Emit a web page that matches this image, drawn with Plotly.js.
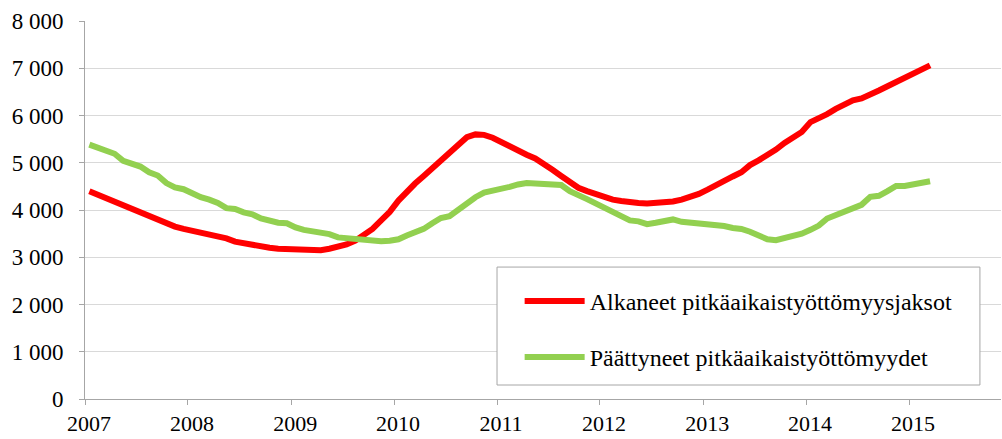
<!DOCTYPE html>
<html>
<head>
<meta charset="utf-8">
<script src="https://cdn.plot.ly/plotly-3.0.1.min.js"></script>
<style>
html, body { margin: 0; padding: 0; background: #ffffff; }
#chart { width: 1002px; height: 439px; }
</style>
</head>
<body>
<div id="chart"></div>
<script>
// Monthly observations, January 2007 – March 2015
var months = [
  '2007-01','2007-02','2007-03','2007-04','2007-05','2007-06','2007-07','2007-08','2007-09','2007-10','2007-11','2007-12',
  '2008-01','2008-02','2008-03','2008-04','2008-05','2008-06','2008-07','2008-08','2008-09','2008-10','2008-11','2008-12',
  '2009-01','2009-02','2009-03','2009-04','2009-05','2009-06','2009-07','2009-08','2009-09','2009-10','2009-11','2009-12',
  '2010-01','2010-02','2010-03','2010-04','2010-05','2010-06','2010-07','2010-08','2010-09','2010-10','2010-11','2010-12',
  '2011-01','2011-02','2011-03','2011-04','2011-05','2011-06','2011-07','2011-08','2011-09','2011-10','2011-11','2011-12',
  '2012-01','2012-02','2012-03','2012-04','2012-05','2012-06','2012-07','2012-08','2012-09','2012-10','2012-11','2012-12',
  '2013-01','2013-02','2013-03','2013-04','2013-05','2013-06','2013-07','2013-08','2013-09','2013-10','2013-11','2013-12',
  '2014-01','2014-02','2014-03','2014-04','2014-05','2014-06','2014-07','2014-08','2014-09','2014-10','2014-11','2014-12',
  '2015-01','2015-02','2015-03'
];

var seriesNames = ['Alkaneet pitkäaikaistyöttömyysjaksot', 'Päättyneet pitkäaikaistyöttömyydet'];

var alkaneet = [
  4395,4320,4260,4200,4110,4030,3950,3865,3800,3720,3650,3600,
  3560,3520,3490,3450,3400,3330,3290,3250,3220,3200,3180,3170,
  3165,3160,3165,3150,3180,3220,3270,3350,3460,3600,3780,3960,
  4200,4400,4560,4720,4880,5070,5240,5400,5540,5600,5590,5530,
  5430,5330,5250,5170,5090,4980,4850,4720,4600,4470,4400,4330,
  4270,4220,4190,4160,4150,4140,4150,4150,4180,4220,4270,4340,
  4430,4530,4630,4710,4800,4950,5050,5150,5280,5420,5540,5650,
  5860,5940,6030,6140,6240,6320,6360,6430,6530,6620,6710,6790,
  6870,6950,7060
];

var paattyneet = [
  5385,5320,5250,5190,5040,4980,4920,4800,4730,4570,4480,4440,
  4340,4270,4220,4150,4040,4020,3950,3910,3820,3760,3730,3720,
  3630,3580,3560,3510,3490,3420,3400,3380,3350,3330,3340,3350,
  3380,3460,3530,3600,3720,3830,3870,4010,4150,4270,4370,4410,
  4430,4490,4540,4570,4560,4560,4560,4530,4400,4300,4230,4140,
  4050,3950,3850,3780,3760,3700,3730,3750,3800,3750,3730,3730,
  3720,3680,3660,3620,3600,3540,3460,3380,3360,3400,3450,3500,
  3580,3670,3820,3900,3960,4050,4110,4280,4300,4400,4510,4510,
  4540,4570,4610
];

var FONT = 'Liberation Serif';

var traces = [
  {
    type: 'scatter', mode: 'lines', name: seriesNames[0], legendgroup: 'a',
    x: months, y: alkaneet, xperiod: 'M1', xperiodalignment: 'middle',
    line: { color: '#ff0000', width: 6, shape: 'linear' }, hoverinfo: 'x+y'
  },
  {
    type: 'scatter', mode: 'lines', name: seriesNames[1], legendgroup: 'b',
    x: months, y: paattyneet, xperiod: 'M1', xperiodalignment: 'middle',
    line: { color: '#92d050', width: 6, shape: 'linear' }, hoverinfo: 'x+y'
  }
];

var layout = {
  width: 1002, height: 439,
  margin: { l: 85, r: 1, t: 21, b: 40, pad: 0 },
  paper_bgcolor: '#ffffff', plot_bgcolor: '#ffffff',
  font: { family: FONT, size: 23, color: '#000000' },
  separators: ', ',
  showlegend: true,
  xaxis: {
    type: 'date',
    range: ['2007-01-01', '2015-11-23'],
    tick0: '2007-01-01', dtick: 'M12', tickformat: '%Y',
    ticks: 'outside', ticklen: 5, tickcolor: '#a6a6a6', tickwidth: 1,
    showline: true, linecolor: '#a6a6a6', linewidth: 1,
    showgrid: false, zeroline: false,
    tickfont: { family: FONT, size: 22, color: '#000000' },
    ticklabelshift: 4, ticklabelstandoff: 0
  },
  yaxis: {
    range: [0, 8000], dtick: 1000, tickformat: ',d',
    ticks: 'outside', ticklen: 5, tickcolor: '#a6a6a6', tickwidth: 1,
    showline: true, linecolor: '#a6a6a6', linewidth: 1,
    showgrid: true, gridcolor: '#d9d9d9', gridwidth: 1,
    zeroline: false,
    tickfont: { family: FONT, size: 23, color: '#000000' },
    ticklabelstandoff: 11
  },
  legend: {
    x: 0.4745, y: 0.318, xanchor: 'left', yanchor: 'top',
    bgcolor: 'rgba(0,0,0,0)', borderwidth: 0,
    font: { family: FONT, size: 24, color: '#000000' },
    tracegroupgap: 22, itemwidth: 60
  },
  shapes: [
    { type: 'rect', xref: 'paper', yref: 'paper', x0: 0.4498, x1: 0.977, y0: 0.037, y1: 0.349,
      line: { color: '#a6a6a6', width: 1 }, fillcolor: '#ffffff', layer: 'above' }
  ]
};

Plotly.newPlot('chart', traces, layout, { displayModeBar: false, staticPlot: true });
</script>
</body>
</html>
